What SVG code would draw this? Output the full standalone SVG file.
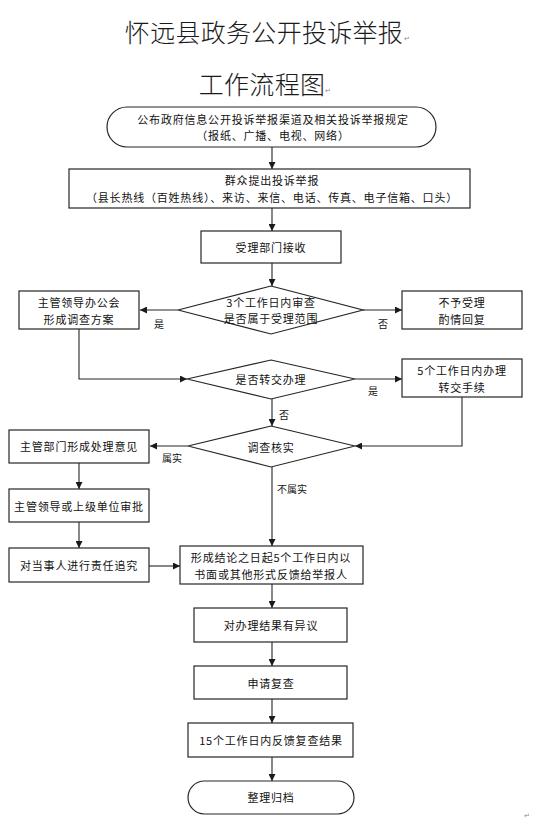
<svg xmlns="http://www.w3.org/2000/svg" width="550" height="822" viewBox="0 0 550 822">
<defs>
<marker id="ah" viewBox="0 0 10 10" refX="10" refY="5" markerWidth="7" markerHeight="7" markerUnits="userSpaceOnUse" orient="auto">
<path d="M0,0 L10,5 L0,10 z" fill="#1a1a1a"/>
</marker>
<style>
.b{fill:#fff;stroke:#262626;stroke-width:1.2}
.c{fill:none;stroke:#262626;stroke-width:1.1;marker-end:url(#ah)}
.t{font-family:"Noto Sans CJK SC","Liberation Sans",sans-serif;font-size:11px;letter-spacing:0.8px;fill:#111;text-anchor:middle;dominant-baseline:central}
.l{font-family:"Noto Sans CJK SC","Liberation Sans",sans-serif;font-size:10px;fill:#111;text-anchor:middle;dominant-baseline:central}
.h{font-family:"Noto Sans CJK SC",sans-serif;font-size:25px;font-weight:300;letter-spacing:0.3px;fill:#1a1a1a;text-anchor:middle;dominant-baseline:central}
.m{font-family:"DejaVu Sans",sans-serif;font-size:7px;fill:#888}
</style>
</defs>
<rect width="550" height="822" fill="#fff"/>
<g id="title">
<text class="h" x="264" y="31">怀远县政务公开投诉举报</text>
<text class="m" x="404" y="41">↵</text>
<text class="h" x="262" y="83">工作流程图</text>
<text class="m" x="325" y="93">↵</text>
</g>
<g id="connectors">
<line class="c" x1="272" y1="147" x2="272" y2="169"/>
<line class="c" x1="272" y1="208" x2="272" y2="231"/>
<line class="c" x1="272" y1="263" x2="272" y2="286"/>
<line class="c" x1="178" y1="310" x2="140" y2="310"/>
<line class="c" x1="363" y1="310" x2="402" y2="310"/>
<polyline class="c" points="79,329 79,379 187,379"/>
<line class="c" x1="355" y1="379" x2="402" y2="379"/>
<line class="c" x1="272" y1="399" x2="272" y2="426"/>
<polyline class="c" points="462,397 462,446 355,446"/>
<line class="c" x1="188" y1="446" x2="150" y2="446"/>
<line class="c" x1="79" y1="463" x2="79" y2="489"/>
<line class="c" x1="79" y1="522" x2="79" y2="548"/>
<line class="c" x1="149" y1="566" x2="180" y2="566"/>
<line class="c" x1="272" y1="467" x2="272" y2="546"/>
<line class="c" x1="272" y1="584" x2="272" y2="608"/>
<line class="c" x1="272" y1="642" x2="272" y2="666"/>
<line class="c" x1="272" y1="699" x2="272" y2="723"/>
<line class="c" x1="272" y1="757" x2="272" y2="781"/>
<text class="l" x="159" y="323">是</text>
<text class="l" x="383" y="323">否</text>
<text class="l" x="373" y="390">是</text>
<text class="l" x="284" y="414">否</text>
<text class="l" x="172" y="457">属实</text>
<text class="l" x="292" y="488">不属实</text>
</g>
<g id="n1">
<rect class="b" x="107" y="107" width="329" height="40" rx="20"/>
<text class="t" x="273" y="119">公布政府信息公开投诉举报渠道及相关投诉举报规定</text>
<text class="t" x="273" y="135">（报纸、广播、电视、网络）</text>
</g>
<g id="n2">
<rect class="b" x="69" y="169" width="401" height="39"/>
<text class="t" x="272" y="180">群众提出投诉举报</text>
<text class="t" x="272" y="197" textLength="372" lengthAdjust="spacing">（县长热线（百姓热线）、来访、来信、电话、传真、电子信箱、口头）</text>
</g>
<g id="n3">
<rect class="b" x="201" y="231" width="140" height="32"/>
<text class="t" x="271" y="247">受理部门接收</text>
</g>
<g id="d1">
<polygon class="b" points="271,286 363,310 271,334 178,310"/>
<text class="t" x="271" y="302">3个工作日内审查</text>
<text class="t" x="271" y="318">是否属于受理范围</text>
</g>
<g id="n4">
<rect class="b" x="19" y="291" width="120" height="38"/>
<text class="t" x="79" y="302">主管领导办公会</text>
<text class="t" x="79" y="319">形成调查方案</text>
</g>
<g id="n5">
<rect class="b" x="402" y="291" width="120" height="38"/>
<text class="t" x="462" y="302">不予受理</text>
<text class="t" x="462" y="319">酌情回复</text>
</g>
<g id="d2">
<polygon class="b" points="271,360 355,379 271,399 187,379"/>
<text class="t" x="271" y="379">是否转交办理</text>
</g>
<g id="n6">
<rect class="b" x="402" y="359" width="120" height="38"/>
<text class="t" x="462" y="370">5个工作日内办理</text>
<text class="t" x="462" y="387">转交手续</text>
</g>
<g id="d3">
<polygon class="b" points="271,426 355,446 271,467 188,446"/>
<text class="t" x="271" y="447">调查核实</text>
</g>
<g id="n7">
<rect class="b" x="9" y="430" width="140" height="33"/>
<text class="t" x="79" y="446">主管部门形成处理意见</text>
</g>
<g id="n8">
<rect class="b" x="9" y="489" width="140" height="33"/>
<text class="t" x="79" y="506">主管领导或上级单位审批</text>
</g>
<g id="n9">
<rect class="b" x="9" y="548" width="140" height="34"/>
<text class="t" x="79" y="565">对当事人进行责任追究</text>
</g>
<g id="n10">
<rect class="b" x="180" y="546" width="183" height="38"/>
<text class="t" x="271" y="557">形成结论之日起5个工作日内以</text>
<text class="t" x="271" y="574">书面或其他形式反馈给举报人</text>
</g>
<g id="n11">
<rect class="b" x="194" y="608" width="153" height="34"/>
<text class="t" x="271" y="625">对办理结果有异议</text>
</g>
<g id="n12">
<rect class="b" x="194" y="666" width="153" height="33"/>
<text class="t" x="271" y="683">申请复查</text>
</g>
<g id="n13">
<rect class="b" x="188" y="723" width="165" height="34"/>
<text class="t" x="271" y="740">15个工作日内反馈复查结果</text>
</g>
<g id="n14">
<rect class="b" x="188" y="781" width="166" height="33" rx="16.5"/>
<text class="t" x="271" y="797">整理归档</text>
</g>
<text class="m" x="524" y="818">↵</text>
</svg>
